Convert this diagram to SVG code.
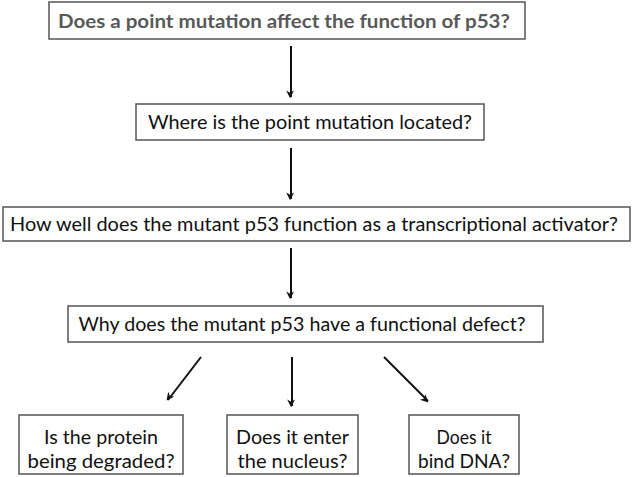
<svg xmlns="http://www.w3.org/2000/svg" width="633" height="477" viewBox="0 0 633 477">
<style>
.box{fill:#fff;stroke:#555;stroke-width:1.5}
.t{font-family:Lato,"Open Sans","Liberation Sans",sans-serif;font-size:18.5px;fill:#111;text-anchor:middle}
.tb{font-family:Lato,"Open Sans","Liberation Sans",sans-serif;font-size:19.5px;font-weight:bold;fill:#595959;text-anchor:middle}
.c{stroke:#111;stroke-width:2;fill:none;marker-end:url(#ah)}
</style>
<defs>
<marker id="ah" viewBox="0 0 10 10" refX="9" refY="5" markerWidth="6" markerHeight="6" orient="auto" markerUnits="userSpaceOnUse" overflow="visible">
<path d="M0,0 L10,5 L0,10 L3,5 Z" fill="#111" transform="translate(-2,0) scale(1.3)"/>
</marker>
</defs>
<rect width="633" height="477" fill="#fff"/>
<g id="n1"><rect class="box" x="49" y="2" width="476" height="37"/><text class="tb" x="284" y="28" textLength="452" lengthAdjust="spacingAndGlyphs">Does a point mutation affect the function of p53?</text></g>
<g id="n2"><rect class="box" x="136" y="104" width="348" height="36"/><text class="t" x="310" y="129" textLength="324" lengthAdjust="spacingAndGlyphs">Where is the point mutation located?</text></g>
<g id="n3"><rect class="box" x="3" y="207" width="627" height="34"/><text class="t" x="314" y="231" textLength="608" lengthAdjust="spacingAndGlyphs">How well does the mutant p53 function as a transcriptional activator?</text></g>
<g id="n4"><rect class="box" x="68" y="306" width="475" height="36"/><text class="t" x="302" y="331" textLength="447" lengthAdjust="spacingAndGlyphs">Why does the mutant p53 have a functional defect?</text></g>
<g id="n5"><rect class="box" x="19" y="415" width="164" height="59"/><text class="t" x="101" y="444" textLength="114" lengthAdjust="spacingAndGlyphs">Is the protein</text><text class="t" x="101" y="468" textLength="147" lengthAdjust="spacingAndGlyphs">being degraded?</text></g>
<g id="n6"><rect class="box" x="227" y="415" width="131" height="59"/><text class="t" x="292.5" y="444" textLength="113" lengthAdjust="spacingAndGlyphs">Does it enter</text><text class="t" x="292.5" y="468" textLength="110" lengthAdjust="spacingAndGlyphs">the nucleus?</text></g>
<g id="n7"><rect class="box" x="409" y="415" width="110" height="59"/><text class="t" x="464" y="444" textLength="55" lengthAdjust="spacingAndGlyphs">Does it</text><text class="t" x="464" y="468" textLength="92" lengthAdjust="spacingAndGlyphs">bind DNA?</text></g>
<g id="connectors">
<line class="c" x1="291" y1="46" x2="291" y2="97"/>
<line class="c" x1="291" y1="148" x2="291" y2="199"/>
<line class="c" x1="291" y1="248" x2="291" y2="298"/>
<line class="c" x1="201" y1="357" x2="168" y2="400"/>
<line class="c" x1="292" y1="357" x2="292" y2="406"/>
<line class="c" x1="384" y1="357" x2="428" y2="401"/>
</g>
</svg>
